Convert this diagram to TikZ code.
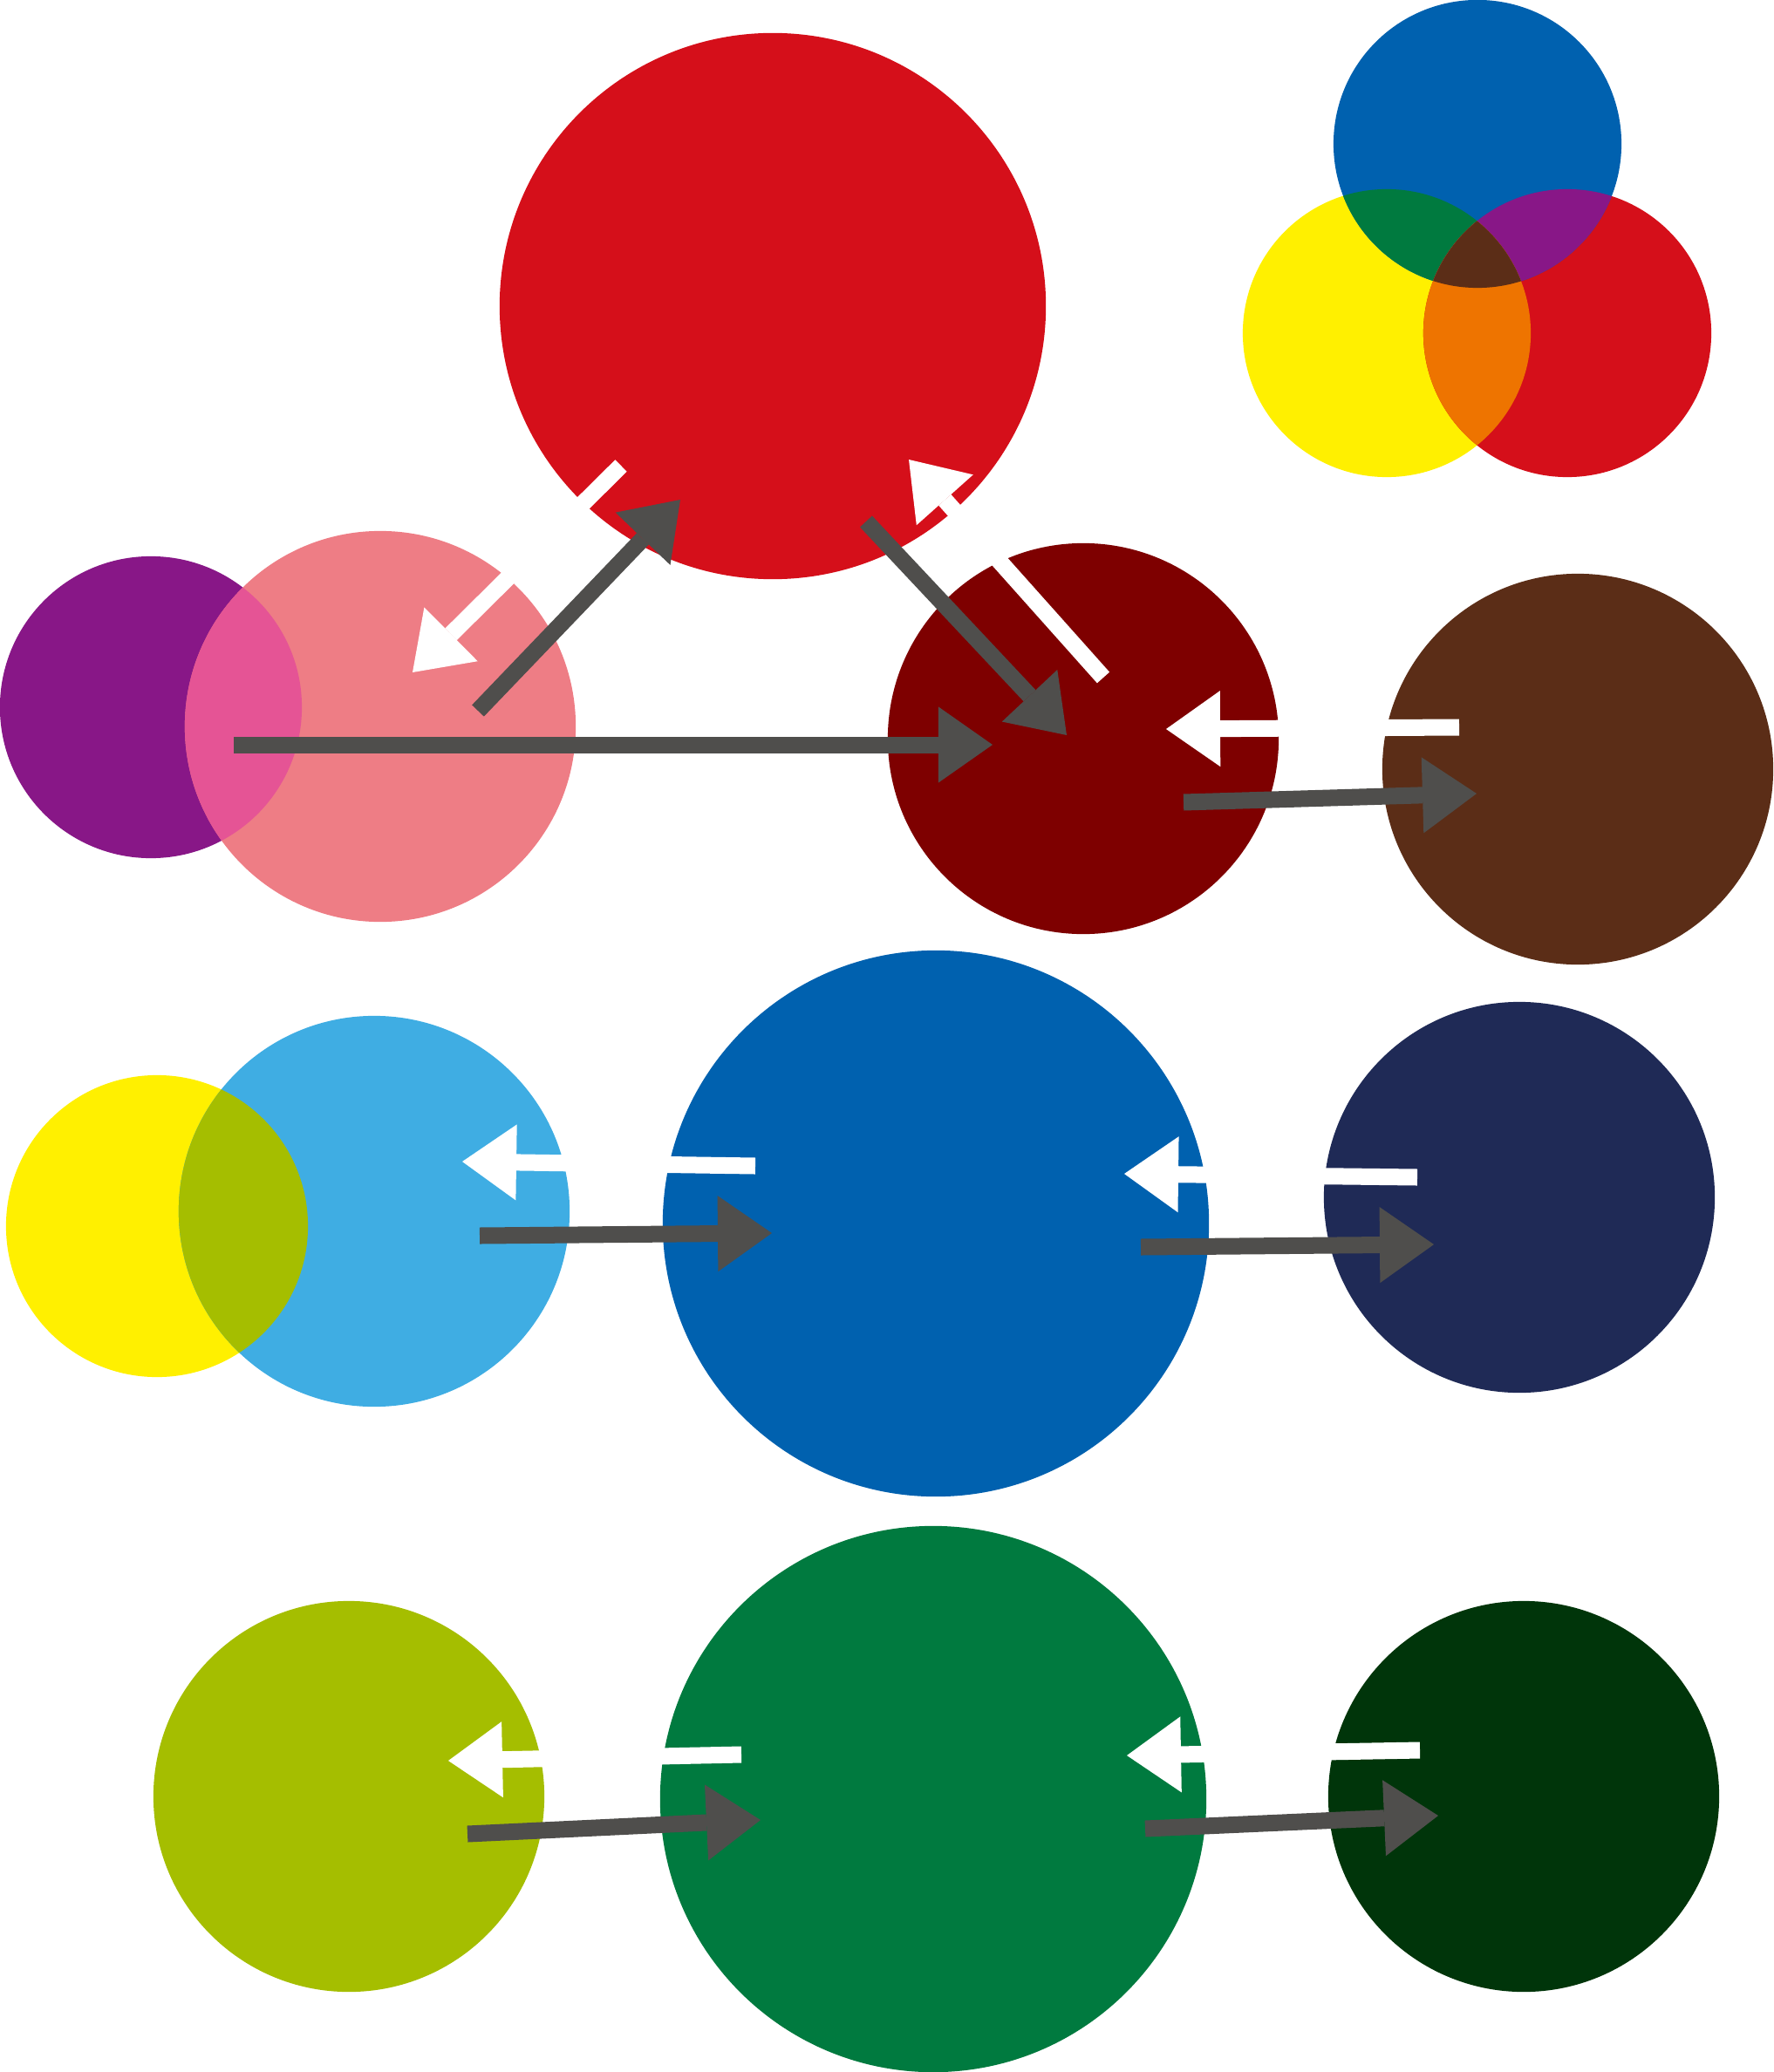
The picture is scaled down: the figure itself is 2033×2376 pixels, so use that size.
\documentclass[tikz,border=0pt]{standalone}
\usetikzlibrary{arrows.meta}
\definecolor{cred}{HTML}{D50F1A}
\definecolor{cpink}{HTML}{EE7D85}
\definecolor{cpurple}{HTML}{881787}
\definecolor{cmag}{HTML}{E55495}
\definecolor{cmaroon}{HTML}{7E0000}
\definecolor{cbrown}{HTML}{5B2D17}
\definecolor{cyellow}{HTML}{FFF000}
\definecolor{clblue}{HTML}{3FADE3}
\definecolor{cblue}{HTML}{0061AF}
\definecolor{cnavy}{HTML}{1F2A56}
\definecolor{colive}{HTML}{A5BE00}
\definecolor{cgreen}{HTML}{007A3F}
\definecolor{cdkgreen}{HTML}{00350A}
\definecolor{corange}{HTML}{EE7400}
\definecolor{cgray}{HTML}{4F4E4C}
\tikzset{
  disc/.style={circle, draw=none, inner sep=0pt, minimum size=#1},
  big/.style={disc=6.26cm},
  mid/.style={disc=4.48cm},
  small/.style={disc=3.46cm},
  darr/.style={draw=cgray, line width=0.19cm, line cap=butt,
    -{Triangle[length=0.62cm, width=0.87cm, line width=0pt]}},
  warr/.style={draw=white, line width=0.19cm, line cap=butt,
    -{Triangle[length=0.62cm, width=0.87cm, line width=0pt]}}
}
\begin{document}
\begin{tikzpicture}[x=0.01cm, y=-0.01cm]
\useasboundingbox (0,0) rectangle (2033,2376);
% ---- row 1 ----
\node[big, fill=cred] (bigred) at (886,351) {};
\node[small, fill=cpurple] (purple) at (173,811) {};
\node[mid, fill=cpink] (pink) at (436,833) {};
\begin{scope}
  \clip (173,811) circle[radius=1.73cm];
  \fill[cmag] (436,833) circle[radius=2.24cm];
\end{scope}
\node[mid, fill=cmaroon] (maroon) at (1242,847) {};
\node[mid, fill=cbrown] (brown) at (1809,882) {};
% ---- venn ----
\node[disc=3.30cm, fill=cyellow] (vyellow) at (1590,382) {};
\node[disc=3.30cm, fill=cred] (vred) at (1797,382) {};
\node[disc=3.30cm, fill=cblue] (vblue) at (1694,165) {};
\begin{scope}
  \clip (1694,165) circle[radius=1.65cm];
  \fill[cgreen] (1590,382) circle[radius=1.65cm];
  \fill[cpurple] (1797,382) circle[radius=1.65cm];
\end{scope}
\begin{scope}
  \clip (1590,382) circle[radius=1.65cm];
  \fill[corange] (1797,382) circle[radius=1.65cm];
  \clip (1797,382) circle[radius=1.65cm];
  \fill[cbrown] (1694,165) circle[radius=1.65cm];
\end{scope}
% ---- row 2 ----
\node[small, fill=cyellow] (yellow2) at (180,1406) {};
\node[mid, fill=clblue] (lblue) at (429,1389) {};
\begin{scope}
  \clip (180,1406) circle[radius=1.73cm];
  \fill[colive] (429,1389) circle[radius=2.24cm];
\end{scope}
\node[big, fill=cblue] (blue) at (1073,1403) {};
\node[mid, fill=cnavy] (navy) at (1742,1373) {};
% ---- row 3 ----
\node[mid, fill=colive] (olive) at (400,2060) {};
\node[big, fill=cgreen] (green) at (1070,2063) {};
\node[mid, fill=cdkgreen] (dkgreen) at (1747,2060) {};
% ---- arrow end points ----
\coordinate (a1s) at (712,534);   \coordinate (a1e) at (473,771);
\coordinate (a2s) at (548,815);   \coordinate (a2e) at (780,573);
\coordinate (a3s) at (993,598);   \coordinate (a3e) at (1223,843);
\coordinate (a4s) at (1265,777);  \coordinate (a4e) at (1042,527);
\coordinate (a5s) at (268,854);   \coordinate (a5e) at (1138,854);
\coordinate (a6s) at (1673,834);  \coordinate (a6e) at (1337,836);
\coordinate (a7s) at (1357,920);  \coordinate (a7e) at (1693,910);
\coordinate (a8s) at (866,1337);  \coordinate (a8e) at (530,1332);
\coordinate (a9s) at (550,1417);  \coordinate (a9e) at (885,1414);
\coordinate (a10s) at (1625,1350); \coordinate (a10e) at (1289,1346);
\coordinate (a11s) at (1308,1430); \coordinate (a11e) at (1644,1427);
\coordinate (a12s) at (850,2012);  \coordinate (a12e) at (514,2019);
\coordinate (a13s) at (536,2103);  \coordinate (a13e) at (872,2087);
\coordinate (a14s) at (1628,2007); \coordinate (a14e) at (1292,2013);
\coordinate (a15s) at (1313,2097); \coordinate (a15e) at (1649,2082);
% ---- white arrows ----
\draw[warr] (a1s) -- (a1e);
\draw[warr] (a4s) -- (a4e);
\draw[warr] (a6s) -- (a6e);
\draw[warr] (a8s) -- (a8e);
\draw[warr] (a10s) -- (a10e);
\draw[warr] (a12s) -- (a12e);
\draw[warr] (a14s) -- (a14e);
% ---- dark arrows ----
\draw[darr] (a2s) -- (a2e);
\draw[darr] (a3s) -- (a3e);
\draw[darr] (a5s) -- (a5e);
\draw[darr] (a7s) -- (a7e);
\draw[darr] (a9s) -- (a9e);
\draw[darr] (a11s) -- (a11e);
\draw[darr] (a13s) -- (a13e);
\draw[darr] (a15s) -- (a15e);
\end{tikzpicture}
\end{document}
